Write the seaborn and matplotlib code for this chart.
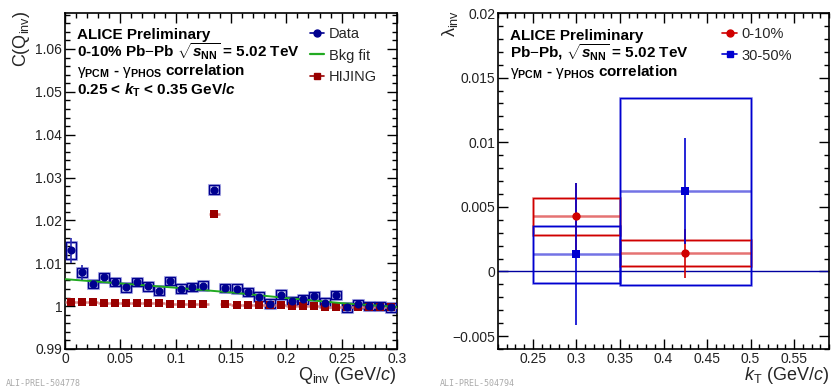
import numpy as np
import pandas as pd
import matplotlib
matplotlib.use("Agg")
import matplotlib.pyplot as plt
import seaborn as sns
from matplotlib.patches import Rectangle
from matplotlib.ticker import MultipleLocator, FuncFormatter
from matplotlib.lines import Line2D

# Left panel: correlation function vs Qinv
q_inv = [0.005, 0.015, 0.025, 0.035, 0.045, 0.055, 0.065, 0.075, 0.085, 0.095,
         0.105, 0.115, 0.125, 0.135, 0.145, 0.155, 0.165, 0.175, 0.185, 0.195,
         0.205, 0.215, 0.225, 0.235, 0.245, 0.255, 0.265, 0.275, 0.285, 0.295]
data_c = [1.0130, 1.0079, 1.0052, 1.0067, 1.0056, 1.0044, 1.0056, 1.0046, 1.0036, 1.0059,
          1.0041, 1.0045, 1.0048, 1.0272, 1.0042, 1.0041, 1.0033, 1.0022, 1.0006, 1.0027,
          1.0012, 1.0016, 1.0024, 1.0008, 1.0026, 0.9997, 1.0005, 1.0000, 1.0000, 0.9997]
data_stat = [0.0029, 0.0017, 0.0008, 0.0008, 0.0006, 0.0006, 0.0006, 0.0005, 0.0005, 0.0006,
             0.0005, 0.0005, 0.0005, 0.0005, 0.0005, 0.0005, 0.0005, 0.0005, 0.0005, 0.0005,
             0.0005, 0.0005, 0.0005, 0.0005, 0.0005, 0.0005, 0.0005, 0.0005, 0.0005, 0.0005]
data_sys = [0.0020, 0.0011, 0.0010, 0.0010, 0.0010, 0.0010, 0.0010, 0.0010, 0.0010, 0.0010,
            0.0010, 0.0010, 0.0010, 0.0010, 0.0010, 0.0010, 0.0010, 0.0010, 0.0010, 0.0010,
            0.0010, 0.0010, 0.0010, 0.0010, 0.0010, 0.0010, 0.0010, 0.0010, 0.0010, 0.0010]
hijing_c = [1.0010, 1.0010, 1.0009, 1.0008, 1.0008, 1.0008, 1.0007, 1.0007, 1.0007, 1.0006,
            1.0006, 1.0006, 1.0005, 1.0214, 1.0005, 1.0003, 1.0003, 1.0002, 1.0003, 1.0002,
            1.0001, 1.0000, 1.0001, 0.9999, 0.9999, 0.9998, 0.9998, 0.9998, 0.9998, 0.9998]
fit_q = [0.0, 0.05, 0.1, 0.15, 0.2, 0.25, 0.3]
fit_c = [1.0063, 1.0053, 1.0043, 1.0032, 1.0019, 1.0007, 0.9998]

# Right panel: lambda_inv vs kT
kt = [0.3, 0.425]
kt_lo = [0.25, 0.35]
kt_hi = [0.35, 0.5]
lam_010 = [0.00428, 0.00142]
lam_010_stat = [0.0026, 0.0019]
lam_010_sys = [0.00143, 0.0010]
lam_3050 = [0.00134, 0.00619]
lam_3050_stat = [0.0055, 0.0041]
lam_3050_sys = [0.0022, 0.0072]

BLUE_D = "#00008f"
RED_D = "#990000"
GREEN = "#22aa22"
RED = "#d00000"
BLUE = "#0000d0"

sns.set_theme(style="ticks")
plt.rcParams["font.family"] = ["Liberation Sans", "DejaVu Sans"]
plt.rcParams.update({
    "mathtext.fontset": "custom",
    "mathtext.rm": "Liberation Sans",
    "mathtext.it": "Liberation Sans:italic",
    "mathtext.bf": "Liberation Sans:bold",
    "mathtext.bfit": "Liberation Sans:italic:bold",
    "axes.edgecolor": "black",
    "axes.linewidth": 1.2,
})

fig = plt.figure(figsize=(8.31, 3.9), dpi=100)
ax1 = fig.add_axes([65 / 831, 41 / 390, 332 / 831, 336 / 390])
ax2 = fig.add_axes([498 / 831, 41 / 390, 331 / 831, 336 / 390])


def fmt(v, pos):
    s = "{:g}".format(round(v, 6))
    return s.replace("-", "\u2212")


def root_style(ax, xmaj, xmin, ymaj, ymin):
    ax.xaxis.set_major_locator(MultipleLocator(xmaj))
    ax.xaxis.set_minor_locator(MultipleLocator(xmin))
    ax.yaxis.set_major_locator(MultipleLocator(ymaj))
    ax.yaxis.set_minor_locator(MultipleLocator(ymin))
    ax.xaxis.set_major_formatter(FuncFormatter(fmt))
    ax.yaxis.set_major_formatter(FuncFormatter(fmt))
    ax.tick_params(which="both", direction="in", top=True, right=True,
                   color="black", width=1.0, labelsize=10, labelcolor="#222222")
    ax.tick_params(which="major", length=7)
    ax.tick_params(which="minor", length=3.5)
    ax.tick_params(axis="x", pad=2)
    ax.tick_params(axis="y", pad=2)
    for sp in ax.spines.values():
        sp.set_visible(True)
        sp.set_color("black")


# ---- left panel ----
df = pd.DataFrame({"q": q_inv, "c": data_c, "stat": data_stat, "sys": data_sys, "hij": hijing_c})

for x, y, s in zip(df["q"], df["c"], df["sys"]):
    ax1.add_patch(Rectangle((x - 0.0045, y - s), 0.009, 2 * s, fill=False,
                            edgecolor="#8080d8", linewidth=2.2, alpha=0.6, zorder=2))
    ax1.add_patch(Rectangle((x - 0.0045, y - s), 0.009, 2 * s, fill=False,
                            edgecolor=BLUE_D, linewidth=1.0, zorder=3))

# HIJING: x error bars over the bin width
ax1.errorbar(df["q"], df["hij"], xerr=0.005, fmt="none", ecolor="#d98080",
             elinewidth=1.8, zorder=3)
sns.scatterplot(data=df, x="q", y="hij", marker="s", s=34, color=RED_D,
                edgecolor=RED_D, linewidth=0, ax=ax1, zorder=4, legend=False)

sns.lineplot(x=fit_q, y=fit_c, color=GREEN, linewidth=1.4, ax=ax1, zorder=4)

ax1.errorbar(df["q"], df["c"], yerr=df["stat"], fmt="none", ecolor="#2a2ab0",
             elinewidth=1.2, zorder=5)
sns.scatterplot(data=df, x="q", y="c", marker="o", s=34, color=BLUE_D,
                edgecolor=BLUE_D, linewidth=0, ax=ax1, zorder=6, legend=False)

ax1.set_xlim(0, 0.3)
ax1.set_ylim(0.99, 1.0684)
root_style(ax1, 0.05, 0.01, 0.01, 0.002)
ax1.set_xlabel("")
ax1.set_ylabel("")

txt = dict(fontsize=11, fontweight="bold", color="black", transform=fig.transFigure)
gam = r"$\mathrm{γ}_{\mathbf{PCM}}$ - $\mathrm{γ}_{\mathbf{PHOS}}$ correlation"
fig.text(77 / 831, 1 - 39 / 390, "ALICE Preliminary", **txt)
fig.text(77 / 831, 1 - 57 / 390, r"0-10% Pb$-$Pb $\sqrt{\mathbfit{s}_{\mathbf{NN}}}$ = 5.02 TeV", **txt)
fig.text(77 / 831, 1 - 75 / 390, gam, **txt)
fig.text(77 / 831, 1 - 95 / 390, r"0.25 < $\mathbfit{k}_{\mathbf{T}}$ < 0.35 GeV/$\mathbfit{c}$", **txt)

handles1 = [
    Line2D([], [], color=BLUE_D, marker="o", markersize=5, linewidth=1.2),
    Line2D([], [], color=GREEN, linewidth=1.6),
    Line2D([], [], color=RED_D, marker="s", markersize=5, linewidth=1.2),
]
leg1 = ax1.legend(handles1, ["Data", "Bkg fit", "HIJING"], loc="upper left",
                  bbox_to_anchor=(0.72, 0.975), frameon=False, fontsize=10.5,
                  handlelength=1.0, handletextpad=0.3, labelspacing=0.5,
                  borderaxespad=0)

fig.text(22 / 831, 1 - 10 / 390, r"C(Q$_{\rm inv}$)", rotation=90, ha="center",
         va="top", fontsize=13)
fig.text(397 / 831, 10 / 390, r"Q$_{\rm inv}$ (GeV/$c$)", ha="right",
         va="baseline", fontsize=13)

# ---- right panel ----
ax2.axhline(0, color="#0000a0", linewidth=1.0, zorder=1)

series = [
    (lam_010, lam_010_stat, lam_010_sys, RED, "o"),
    (lam_3050, lam_3050_stat, lam_3050_sys, BLUE, "s"),
]
for vals, stat, sysv, col, mk in series:
    for lo, hi, v, s in zip(kt_lo, kt_hi, vals, sysv):
        ax2.add_patch(Rectangle((lo, v - s), hi - lo, 2 * s, fill=False,
                                edgecolor=col, linewidth=1.8, alpha=0.55, zorder=2))
        ax2.add_patch(Rectangle((lo, v - s), hi - lo, 2 * s, fill=False,
                                edgecolor=col, linewidth=0.8, zorder=3))
    xerr = [np.subtract(kt, kt_lo), np.subtract(kt_hi, kt)]
    ax2.errorbar(kt, vals, xerr=xerr, fmt="none", ecolor=col, elinewidth=1.8,
                 alpha=0.55, zorder=3)
    ax2.errorbar(kt, vals, yerr=stat, fmt="none", ecolor=col, elinewidth=1.2,
                 zorder=4)
    sns.scatterplot(x=kt, y=vals, marker=mk, s=36, color=col, edgecolor=col,
                    linewidth=0, ax=ax2, zorder=5, legend=False)

ax2.set_xlim(0.21, 0.59)
ax2.set_ylim(-0.006, 0.02)
root_style(ax2, 0.05, 0.01, 0.005, 0.001)
ax2.set_xlabel("")
ax2.set_ylabel("")

fig.text(510 / 831, 1 - 40 / 390, "ALICE Preliminary", **txt)
fig.text(510 / 831, 1 - 58 / 390, r"Pb$-$Pb, $\sqrt{\mathbfit{s}_{\mathbf{NN}}}$ = 5.02 TeV", **txt)
fig.text(510 / 831, 1 - 76 / 390, gam, **txt)

handles2 = [
    Line2D([], [], color=RED, marker="o", markersize=5, linewidth=1.2),
    Line2D([], [], color=BLUE, marker="s", markersize=5, linewidth=1.2),
]
ax2.legend(handles2, ["0-10%", "30-50%"], loc="upper left",
           bbox_to_anchor=(0.66, 0.975), frameon=False, fontsize=10.5,
           handlelength=1.0, handletextpad=0.3, labelspacing=0.5, borderaxespad=0)

fig.text(450 / 831, 1 - 10 / 390, r"λ$_{\rm inv}$", rotation=90, ha="center",
         va="top", fontsize=13)
fig.text(829 / 831, 10 / 390, r"$k_{\rm T}$ (GeV/$c$)", ha="right",
         va="baseline", fontsize=13)

# watermarks
wm = dict(fontsize=6, color="#aaaaaa", family="DejaVu Sans Mono")
fig.text(6 / 831, 4 / 390, "ALI-PREL-504778", **wm)
fig.text(440 / 831, 4 / 390, "ALI-PREL-504794", **wm)

fig.savefig("out.png", dpi=100, facecolor="white")
